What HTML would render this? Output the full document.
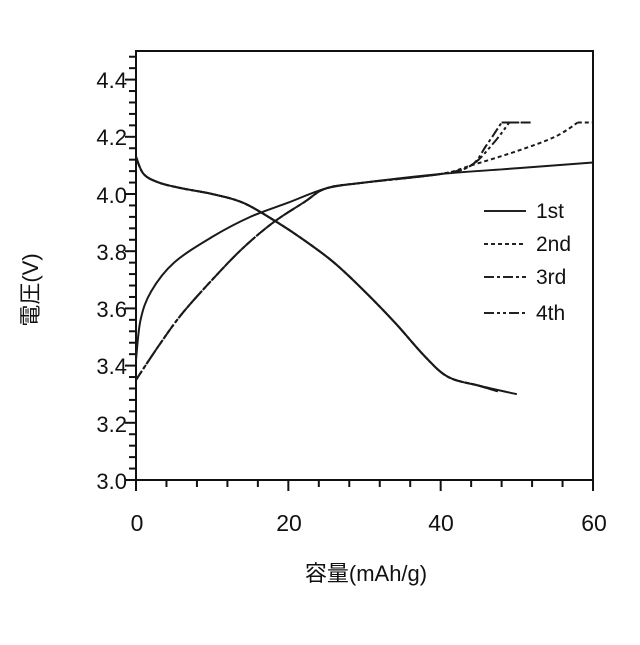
<!DOCTYPE html>
<html><head><meta charset="utf-8"><style>
body{margin:0;background:#fff}
svg text{font-family:"Liberation Sans","Noto Sans CJK JP",sans-serif;fill:#111}
</style></head><body>
<svg id="s" width="640" height="640" xmlns="http://www.w3.org/2000/svg">
<rect x="136" y="51" width="457" height="429" fill="none" stroke="#111" stroke-width="2"/>
<g id="ticks" stroke="#111" stroke-width="2"></g>
<g id="curves" fill="none" stroke="#1a1a1a" stroke-width="2"></g>
<g font-size="22" text-anchor="end">
<text x="127" y="88">4.4</text><text x="127" y="145">4.2</text><text x="127" y="203">4.0</text>
<text x="127" y="260">3.8</text><text x="127" y="317">3.6</text><text x="127" y="374">3.4</text>
<text x="127" y="432">3.2</text><text x="127" y="489">3.0</text>
</g>
<g font-size="23" text-anchor="middle">
<text x="137" y="531">0</text><text x="289" y="531">20</text><text x="441" y="531">40</text><text x="594" y="531">60</text>
</g>
<text x="366" y="581" font-size="22" text-anchor="middle">容量(mAh/g)</text>
<text transform="translate(38,290) rotate(-90)" font-size="22" text-anchor="middle">電圧(V)</text>
<g font-size="21">
<text x="536" y="218">1st</text><text x="536" y="251">2nd</text><text x="536" y="284">3rd</text><text x="536" y="320">4th</text>
</g>
<g stroke="#222" stroke-width="2">
<line x1="484" y1="211" x2="526" y2="211"/>
<line x1="484" y1="244" x2="526" y2="244" stroke-dasharray="4,3"/>
<line x1="484" y1="277" x2="526" y2="277" stroke-dasharray="10,3,3,3"/>
<line x1="484" y1="313" x2="526" y2="313" stroke-dasharray="10,3,3,3,3,3"/>
</g>
</svg>
<script>
var X=c=>136+c*7.617,Y=v=>480-(v-3)*286;
var t=document.getElementById('ticks'),h='';
for(var i=0;i<=15;i++){var x=X(i*4);h+=`<line x1="${x}" y1="480" x2="${x}" y2="${i%5==0?491:487}"/>`;}
for(var i=0;i<=37;i++){var y=Y(3+i*0.04);if(y<51)break;h+=`<line x1="136" y1="${y}" x2="${i%5==0?125:129}" y2="${y}"/>`;}
t.innerHTML=h;
function path(p){var q=p.map(a=>[X(a[0]),Y(a[1])]);var d='M'+q[0];for(var i=0;i<q.length-1;i++){var p0=q[i-1]||q[i],p1=q[i],p2=q[i+1],p3=q[i+2]||p2;
d+=` C${p1[0]+(p2[0]-p0[0])/6},${p1[1]+(p2[1]-p0[1])/6} ${p2[0]-(p3[0]-p1[0])/6},${p2[1]-(p3[1]-p1[1])/6} ${p2[0]},${p2[1]}`;}return d;}
var dis=[[0,4.13],[1,4.07],[3,4.04],[6,4.02],[10,4.0],[14,3.97],[18,3.91],[22,3.84],[26,3.76],[30,3.66],[34,3.55],[38,3.43],[41,3.36],[45,3.33]];
var d1=dis.concat([[50,3.3]]),d2=dis.concat([[47.5,3.31]]);
var c1=[[0,3.42],[0.6,3.56],[2,3.66],[5,3.76],[10,3.85],[15,3.92],[20,3.97],[25,4.02],[30,4.04],[40,4.07],[50,4.09],[60,4.11]];
var cb=[[0,3.35],[3,3.47],[6,3.58],[10,3.70],[14,3.81],[18,3.90],[22,3.97],[25,4.02],[30,4.04],[40,4.07],[44,4.1]];
var c2=cb.concat([[50,4.15],[55,4.2],[58,4.25]]),c3=cb.concat([[46,4.17],[48,4.25]]),c4=cb.concat([[47,4.18],[49,4.25]]);
var S=[[d1,''],[d2,'4,3'],[d2,'10,3,3,3'],[d2,'10,3,3,3,3,3'],[c1,''],[c2,'4,3'],[c3,'10,3,3,3'],[c4,'10,3,3,3,3,3']];
var g='';S.forEach(s=>{g+=`<path d="${path(s[0])}" stroke-dasharray="${s[1]||'none'}"/>`;});
g+=`<line x1="${X(58)}" y1="${Y(4.25)}" x2="${X(60)}" y2="${Y(4.25)}" stroke-dasharray="4,3"/>`;
g+=`<line x1="${X(48)}" y1="${Y(4.25)}" x2="${X(52)}" y2="${Y(4.25)}" stroke-dasharray="10,3,3,3"/>`;
g+=`<line x1="${X(49)}" y1="${Y(4.25)}" x2="${X(51)}" y2="${Y(4.25)}" stroke-dasharray="10,3,3,3,3,3"/>`;
document.getElementById('curves').innerHTML=g;
</script>
</body></html>
